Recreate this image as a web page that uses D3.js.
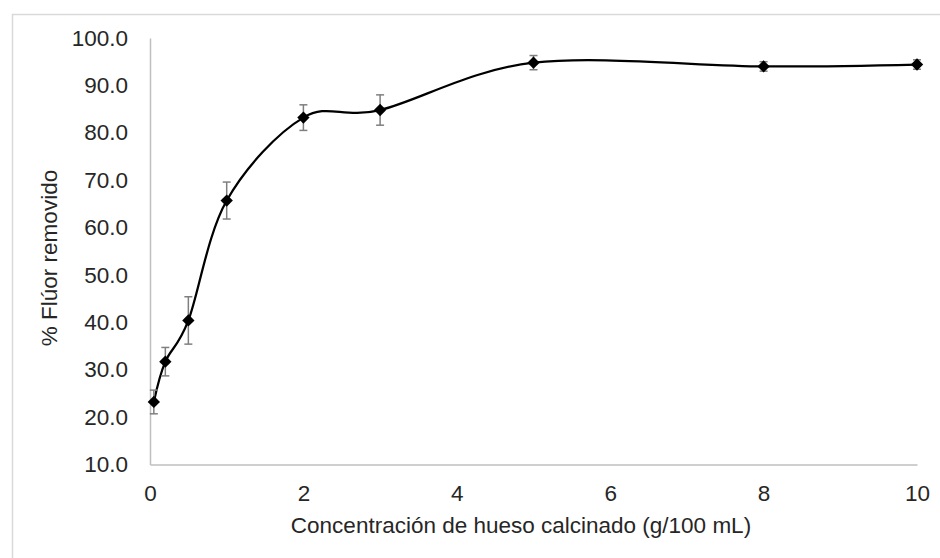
<!DOCTYPE html>
<html>
<head>
<meta charset="utf-8">
<script src="https://cdn.jsdelivr.net/npm/d3@7"></script>
<style>
  html, body { margin: 0; padding: 0; background: #fff; }
  svg { display: block; }
  text { font-family: "Liberation Sans", Arial, sans-serif; fill: #262626; }
</style>
</head>
<body>
<svg id="chart" width="940" height="558"></svg>
<script>
// Dose of calcined bone (g/100 mL) vs. % fluoride removed, with standard deviation
const concentration = [0.05, 0.2, 0.5, 1, 2, 3, 5, 8, 10];
const removal       = [23.2, 31.7, 40.4, 65.7, 83.2, 84.8, 94.8, 94.0, 94.4];
const deviation     = [2.5, 3.0, 5.0, 3.9, 2.7, 3.2, 1.5, 1.0, 1.0];

const xTicks = [0, 2, 4, 6, 8, 10];
const yTicks = [10, 20, 30, 40, 50, 60, 70, 80, 90, 100];

const xTitle = "Concentración de hueso calcinado (g/100 mL)";
const yTitle = "% Flúor removido";

const fontSize = "22.5px";
const svg = d3.select("#chart");

// chart frame
svg.append("rect")
  .attr("x", 12.5).attr("y", 14.5)
  .attr("width", 940).attr("height", 560)
  .attr("fill", "#fff")
  .attr("stroke", "#d9d9d9").attr("stroke-width", 1.5);

const x = d3.scaleLinear().domain([0, 10]).range([150, 917]);
const y = d3.scaleLinear().domain([10, 100]).range([464.5, 38]);

// axes
const xAxis = svg.append("g").attr("transform", `translate(0,${y(10)})`)
  .call(d3.axisBottom(x).tickValues(xTicks).tickSize(0).tickPadding(21).tickFormat(d3.format("d")));
const yAxis = svg.append("g").attr("transform", `translate(${x(0)},0)`)
  .call(d3.axisLeft(y).tickValues(yTicks).tickSize(0).tickPadding(22).tickFormat(d3.format(".1f")));

[xAxis, yAxis].forEach(g => {
  g.select(".domain").attr("stroke", "#bfbfbf").attr("stroke-width", 1.5);
  g.selectAll("text")
    .style("font-family", "'Liberation Sans', Arial, sans-serif")
    .style("font-size", fontSize).attr("fill", "#262626");
});

// axis titles
svg.append("text")
  .attr("x", 521).attr("y", 533)
  .attr("text-anchor", "middle")
  .style("font-size", fontSize)
  .text(xTitle);

svg.append("text")
  .attr("transform", "translate(57,258) rotate(-90)")
  .attr("text-anchor", "middle")
  .style("font-size", fontSize)
  .text(yTitle);

const pts = concentration.map((c, i) => ({ c, v: removal[i], e: deviation[i] }));

// smoothed line through the means
svg.append("path")
  .datum(pts)
  .attr("fill", "none")
  .attr("stroke", "#000")
  .attr("stroke-width", 2.25)
  .attr("d", d3.line().x(d => x(d.c)).y(d => y(d.v)).curve(d3.curveCardinal.tension(0)));

// error bars
const eb = svg.append("g").attr("stroke", "#7f7f7f").attr("stroke-width", 1.5).attr("fill", "none");
pts.forEach(d => {
  const cx = x(d.c), y0 = y(d.v - d.e), y1 = y(d.v + d.e);
  eb.append("line").attr("x1", cx).attr("x2", cx).attr("y1", y0).attr("y2", y1);
  eb.append("line").attr("x1", cx - 4).attr("x2", cx + 4).attr("y1", y0).attr("y2", y0);
  eb.append("line").attr("x1", cx - 4).attr("x2", cx + 4).attr("y1", y1).attr("y2", y1);
});

// diamond markers
const diamond = d3.symbol().type(d3.symbolSquare).size(76);
svg.append("g").selectAll("path")
  .data(pts)
  .join("path")
  .attr("d", diamond)
  .attr("transform", d => `translate(${x(d.c)},${y(d.v)}) rotate(45)`)
  .attr("fill", "#000");
</script>
</body>
</html>
